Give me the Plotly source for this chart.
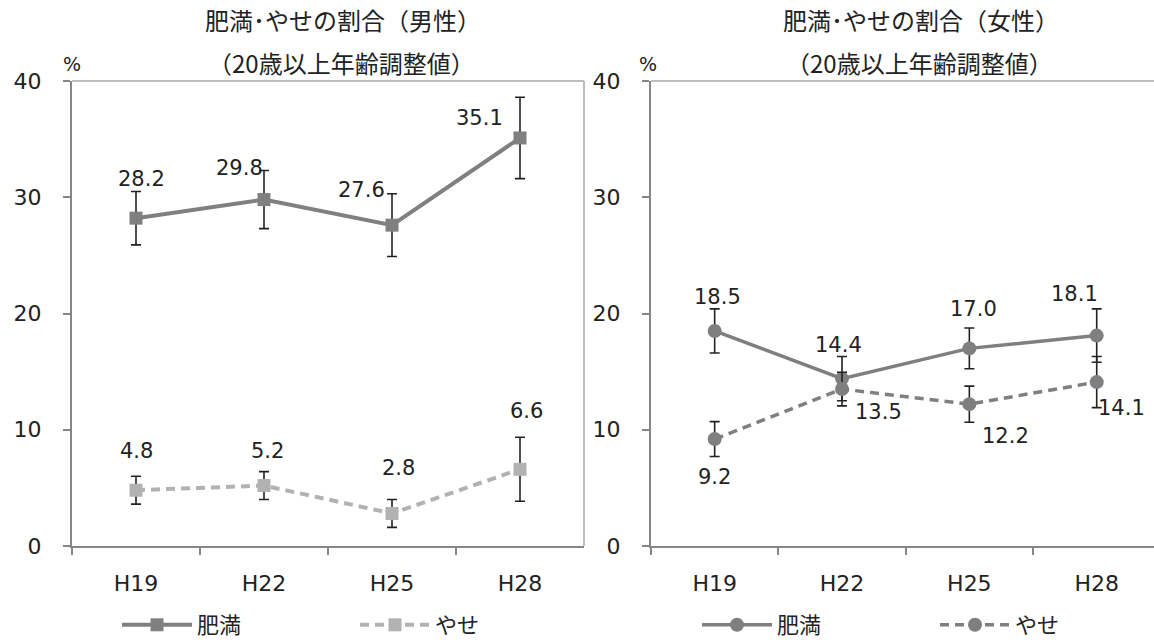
import plotly.graph_objects as go

# Survey years (category axis)
years = ["H19", "H22", "H25", "H28"]

# Men: obesity / underweight rates (%), age-adjusted, 20+
men_obese = [28.2, 29.8, 27.6, 35.1]
men_obese_err = [2.3, 2.5, 2.7, 3.5]
men_thin = [4.8, 5.2, 2.8, 6.6]
men_thin_err = [1.2, 1.2, 1.2, 2.75]

# Women: obesity / underweight rates (%), age-adjusted, 20+
women_obese = [18.5, 14.4, 17.0, 18.1]
women_obese_err = [1.9, 1.9, 1.75, 2.3]
women_thin = [9.2, 13.5, 12.2, 14.1]
women_thin_err = [1.5, 1.45, 1.55, 2.2]

y_ticks = [0, 10, 20, 30, 40]

W, H = 1154, 643
NUM_FONT = "DejaVu Sans, Noto Sans CJK JP"
JP_FONT = "Noto Sans CJK JP, DejaVu Sans"
AXIS_GREY = "#868686"
ERR_COLOR = "#222222"
TEXT = "#222222"

def px_x(v):
    return v / W

def px_y(v):
    return 1 - v / H

fig = go.Figure()

def err(vals):
    return dict(type="data", array=vals, visible=True, color=ERR_COLOR,
                thickness=1.6, width=5)

# Men
fig.add_trace(go.Scatter(
    x=years, y=men_obese, name="肥満", mode="lines+markers",
    line=dict(color="#808080", width=4),
    marker=dict(symbol="square", size=13, color="#808080"),
    error_y=err(men_obese_err), xaxis="x", yaxis="y", legend="legend"))
fig.add_trace(go.Scatter(
    x=years, y=men_thin, name="やせ", mode="lines+markers",
    line=dict(color="#b2b2b2", width=4, dash="9px,6px"),
    marker=dict(symbol="square", size=13, color="#b2b2b2"),
    error_y=err(men_thin_err), xaxis="x", yaxis="y", legend="legend"))

# Women
fig.add_trace(go.Scatter(
    x=years, y=women_obese, name="肥満", mode="lines+markers",
    line=dict(color="#7f7f7f", width=3.5),
    marker=dict(symbol="circle", size=14, color="#7f7f7f"),
    error_y=err(women_obese_err), xaxis="x2", yaxis="y2", legend="legend2"))
fig.add_trace(go.Scatter(
    x=years, y=women_thin, name="やせ", mode="lines+markers",
    line=dict(color="#7f7f7f", width=3.5, dash="9px,6px"),
    marker=dict(symbol="circle", size=14, color="#7f7f7f"),
    error_y=err(women_thin_err), xaxis="x2", yaxis="y2", legend="legend2"))

# Value labels (pixel offsets from each point)
men_obese_off = [(5, 39), (-25, 32), (-31, 35), (-41, 20)]
men_thin_off = [(0, 39), (3, 35), (6, 45), (6, 58)]
women_obese_off = [(3, 34), (-4, 34), (4, 39), (-22, 42)]
women_thin_off = [(0, -38), (36, -23), (36, -32), (25, -26)]

annotations = []

def add_labels(vals, offs, xr, yr):
    for cat, v, (dx, dy) in zip(years, vals, offs):
        annotations.append(dict(
            x=cat, y=v, xref=xr, yref=yr, text=f"{v:.1f}", showarrow=False,
            xshift=dx, yshift=dy, font=dict(family=NUM_FONT, size=21, color=TEXT)))

add_labels(men_obese, men_obese_off, "x", "y")
add_labels(men_thin, men_thin_off, "x", "y")
add_labels(women_obese, women_obese_off, "x2", "y2")
add_labels(women_thin, women_thin_off, "x2", "y2")

# Titles and unit marks
for lx, t1 in [(203, "肥満･やせの割合（男性）"), (781, "肥満･やせの割合（女性）")]:
    annotations.append(dict(x=px_x(lx), y=px_y(20), xref="paper", yref="paper",
                            text=t1, showarrow=False, xanchor="left", yanchor="middle",
                            font=dict(family=JP_FONT, size=24, color=TEXT)))
    annotations.append(dict(x=px_x(lx + 3), y=px_y(63), xref="paper", yref="paper",
                            text="（20歳以上年齢調整値）", showarrow=False,
                            xanchor="left", yanchor="middle",
                            font=dict(family=JP_FONT, size=24, color=TEXT)))
for ux in [72, 648]:
    annotations.append(dict(x=px_x(ux), y=px_y(64), xref="paper", yref="paper",
                            text="%", showarrow=False, xanchor="center", yanchor="middle",
                            font=dict(family=NUM_FONT, size=19, color=TEXT)))

y_dom = [px_y(546), px_y(81)]
axis_common = dict(showline=True, linecolor=AXIS_GREY, linewidth=2,
                   ticks="outside", ticklen=7, tickcolor=AXIS_GREY, tickwidth=2,
                   showgrid=False, zeroline=False, automargin=False,
                   tickfont=dict(family=NUM_FONT, size=22, color=TEXT))

legend_common = dict(orientation="h", xanchor="left", yanchor="middle",
                     itemwidth=70, entrywidth=153, entrywidthmode="pixels",
                     font=dict(family=JP_FONT, size=22, color=TEXT),
                     bgcolor="rgba(0,0,0,0)")

fig.update_layout(
    width=W, height=H,
    margin=dict(l=0, r=0, t=0, b=0, autoexpand=False),
    paper_bgcolor="white", plot_bgcolor="white",
    xaxis=dict(domain=[px_x(72), px_x(584)], range=[-0.5, 3.5],
               tickson="boundaries", anchor="y", ticklabelstandoff=17, **axis_common),
    yaxis=dict(domain=y_dom, range=[0, 40], tickvals=y_ticks, anchor="x",
               ticklabelstandoff=17, **axis_common),
    xaxis2=dict(domain=[px_x(651), 1.0], range=[-0.5, 3.45],
                tickson="boundaries", anchor="y2", ticklabelstandoff=17, **axis_common),
    yaxis2=dict(domain=y_dom, range=[0, 40], tickvals=y_ticks, anchor="x2",
                ticklabelstandoff=17, **axis_common),
    legend=dict(x=px_x(117), y=px_y(625), **legend_common),
    legend2=dict(x=px_x(697), y=px_y(625), **legend_common),
    annotations=annotations,
    shapes=[
        # light frame on the top and right of the men's plot area
        dict(type="line", xref="x domain", yref="y domain", x0=0, x1=1, y0=1, y1=1,
             line=dict(color="#bdbdbd", width=2)),
        dict(type="line", xref="x domain", yref="y domain", x0=1, x1=1, y0=0, y1=1,
             line=dict(color="#bdbdbd", width=2)),
        dict(type="line", xref="x2 domain", yref="y2 domain", x0=0, x1=1, y0=1, y1=1,
             line=dict(color="#bdbdbd", width=2)),
    ],
)

fig.write_html("out.html")
